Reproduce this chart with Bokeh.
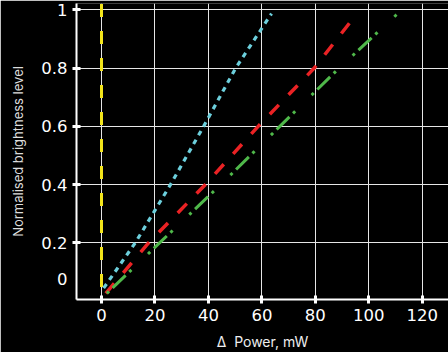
from bokeh.plotting import figure
from bokeh.models import FixedTicker, LinearAxis, Range1d
from bokeh.embed import file_html
from bokeh.resources import INLINE

# ---- data ----
x_ticks = [0, 20, 40, 60, 80, 100, 120]
y_ticks = [0.2, 0.4, 0.6, 0.8, 1.0]
zero_label_level = 0.078  # where the reference prints its "0" label
y_label_ticks = [zero_label_level] + y_ticks
y_label_text = {zero_label_level: "0", 0.2: "0.2", 0.4: "0.4", 0.6: "0.6", 0.8: "0.8", 1.0: "1"}

ref_power = [0, 0]
ref_level = [1.02, 0.0]

cyan_power = [0.8, 12.6, 25.8, 38.2, 50.2, 63.6]
cyan_level = [0.045, 0.2, 0.4, 0.6, 0.8, 0.987]

red_power = [1.6, 17.6, 38.8, 58.6, 79.6, 95.8]
red_level = [0.027, 0.2, 0.4, 0.6, 0.8, 0.99]

green_power = [2.0, 21.7, 44.6, 66.7, 88.9, 110.7]
green_level = [0.027, 0.2, 0.4, 0.6, 0.8, 0.986]

TICK_FONT = "DejaVu Sans"
LABEL_FONT = "Inter"

p = figure(width=448, height=352, output_backend="svg", toolbar_location=None,
           x_range=Range1d(-9.35, 129.8), y_range=Range1d(0.006, 1.0215),
           background_fill_color="black", border_fill_color="black",
           min_border_left=76, min_border_right=0, min_border_top=3, min_border_bottom=53)
p.outline_line_color = None

for ax in (p.xaxis[0], p.yaxis[0]):
    ax.axis_line_color = "white"
    ax.axis_line_width = 2
    ax.major_tick_line_color = "white"
    ax.major_tick_line_width = 3
    ax.major_tick_in = 4
    ax.major_tick_out = 4
    ax.minor_tick_line_color = None
    ax.major_label_text_color = "white"
    ax.major_label_text_font = TICK_FONT
    ax.major_label_text_font_size = "16.5px"

p.xaxis.ticker = FixedTicker(ticks=x_ticks)
p.xaxis.major_label_standoff = 5
p.xaxis.axis_label = "Δ\u00a0 Power, mW"
p.xaxis.axis_label_standoff = 9
p.xaxis.axis_label_text_color = "#eeeeee"
p.xaxis.axis_label_text_font = LABEL_FONT
p.xaxis.axis_label_text_font_style = "normal"
p.xaxis.axis_label_text_font_size = "14px"

# inner y axis: line and tick marks only
p.yaxis.ticker = FixedTicker(ticks=y_ticks)
p.yaxis.major_label_overrides = {t: "" for t in y_ticks}
p.yaxis.major_label_standoff = 0

# outer y axis: labels only
ylab = LinearAxis(ticker=FixedTicker(ticks=y_label_ticks),
                  major_label_overrides=y_label_text,
                  axis_line_color=None, major_tick_line_color=None,
                  minor_tick_line_color=None, major_tick_in=0, major_tick_out=0,
                  major_label_standoff=5, major_label_text_color="white",
                  major_label_text_font=TICK_FONT, major_label_text_font_size="16.5px",
                  axis_label="Normalised brightness level", axis_label_standoff=12,
                  axis_label_text_color="#dddddd", axis_label_text_font=LABEL_FONT,
                  axis_label_text_font_style="normal", axis_label_text_font_size="13px")
p.add_layout(ylab, "left")

p.xgrid.ticker = FixedTicker(ticks=x_ticks)
p.ygrid.ticker = FixedTicker(ticks=y_ticks)
for g in (p.xgrid[0], p.ygrid[0]):
    g.grid_line_color = "#e6e6e6"
    g.grid_line_width = 1

p.line(ref_power, ref_level, line_color="#f2e41a", line_width=3, line_dash="13 14")
p.line(cyan_power, cyan_level, line_color="#6ccfdc", line_width=3.2, line_dash="5 5")
p.line(red_power, red_level, line_color="#ea2224", line_width=3.5, line_dash="13 14")
p.line(green_power, green_level, line_color="#4fb84a", line_width=3, line_dash="3 5 18 5 3 23")

open("out.html", "w").write(file_html(p, INLINE))
